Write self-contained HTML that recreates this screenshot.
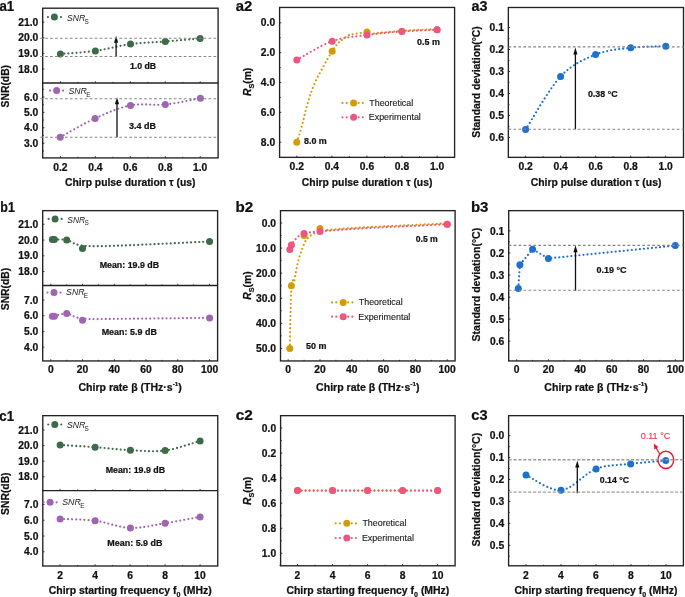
<!DOCTYPE html>
<html><head><meta charset="utf-8"><style>
html,body{margin:0;padding:0;background:#fff;}
svg{display:block;filter:blur(0.3px);}
text{font-family:"Liberation Sans", sans-serif;}
text[font-weight=bold],g text{stroke:#111;stroke-width:0.22px;}
</style></head><body>
<svg width="685" height="597" viewBox="0 0 685 597">
<rect width="685" height="597" fill="#fff"/>
<rect x="42.7" y="8.2" width="175.4" height="149.7" fill="none" stroke="#222" stroke-width="1.35"/>
<line x1="42.7" y1="83" x2="218.1" y2="83" stroke="#222" stroke-width="1.35" />
<line x1="60.4" y1="83" x2="60.4" y2="81.3" stroke="#222" stroke-width="0.9" />
<line x1="95.35" y1="83" x2="95.35" y2="81.3" stroke="#222" stroke-width="0.9" />
<line x1="130.3" y1="83" x2="130.3" y2="81.3" stroke="#222" stroke-width="0.9" />
<line x1="165.25" y1="83" x2="165.25" y2="81.3" stroke="#222" stroke-width="0.9" />
<line x1="200.2" y1="83" x2="200.2" y2="81.3" stroke="#222" stroke-width="0.9" />
<line x1="77.88" y1="83" x2="77.88" y2="81.9" stroke="#222" stroke-width="0.9" />
<line x1="112.82" y1="83" x2="112.82" y2="81.9" stroke="#222" stroke-width="0.9" />
<line x1="147.77" y1="83" x2="147.77" y2="81.9" stroke="#222" stroke-width="0.9" />
<line x1="182.72" y1="83" x2="182.72" y2="81.9" stroke="#222" stroke-width="0.9" />
<line x1="60.4" y1="157.9" x2="60.4" y2="156.2" stroke="#222" stroke-width="0.9" />
<line x1="95.35" y1="157.9" x2="95.35" y2="156.2" stroke="#222" stroke-width="0.9" />
<line x1="130.3" y1="157.9" x2="130.3" y2="156.2" stroke="#222" stroke-width="0.9" />
<line x1="165.25" y1="157.9" x2="165.25" y2="156.2" stroke="#222" stroke-width="0.9" />
<line x1="200.2" y1="157.9" x2="200.2" y2="156.2" stroke="#222" stroke-width="0.9" />
<line x1="77.88" y1="157.9" x2="77.88" y2="156.8" stroke="#222" stroke-width="0.9" />
<line x1="112.82" y1="157.9" x2="112.82" y2="156.8" stroke="#222" stroke-width="0.9" />
<line x1="147.77" y1="157.9" x2="147.77" y2="156.8" stroke="#222" stroke-width="0.9" />
<line x1="182.72" y1="157.9" x2="182.72" y2="156.8" stroke="#222" stroke-width="0.9" />
<line x1="42.7" y1="69" x2="44.4" y2="69" stroke="#222" stroke-width="0.9" />
<line x1="42.7" y1="53.4" x2="44.4" y2="53.4" stroke="#222" stroke-width="0.9" />
<line x1="42.7" y1="37.8" x2="44.4" y2="37.8" stroke="#222" stroke-width="0.9" />
<line x1="42.7" y1="22.2" x2="44.4" y2="22.2" stroke="#222" stroke-width="0.9" />
<line x1="42.7" y1="143.2" x2="44.4" y2="143.2" stroke="#222" stroke-width="0.9" />
<line x1="42.7" y1="127.8" x2="44.4" y2="127.8" stroke="#222" stroke-width="0.9" />
<line x1="42.7" y1="112.4" x2="44.4" y2="112.4" stroke="#222" stroke-width="0.9" />
<line x1="42.7" y1="97" x2="44.4" y2="97" stroke="#222" stroke-width="0.9" />
<line x1="42.7" y1="150.9" x2="43.8" y2="150.9" stroke="#222" stroke-width="0.9" />
<line x1="42.7" y1="135.5" x2="43.8" y2="135.5" stroke="#222" stroke-width="0.9" />
<line x1="42.7" y1="120.1" x2="43.8" y2="120.1" stroke="#222" stroke-width="0.9" />
<line x1="42.7" y1="104.7" x2="43.8" y2="104.7" stroke="#222" stroke-width="0.9" />
<line x1="42.7" y1="89.3" x2="43.8" y2="89.3" stroke="#222" stroke-width="0.9" />
<text x="38.3" y="72.6" font-size="10" font-weight="bold" text-anchor="end" fill="#111" textLength="20.05" lengthAdjust="spacingAndGlyphs" >18.0</text>
<text x="38.3" y="57" font-size="10" font-weight="bold" text-anchor="end" fill="#111" textLength="20.05" lengthAdjust="spacingAndGlyphs" >19.0</text>
<text x="38.3" y="41.4" font-size="10" font-weight="bold" text-anchor="end" fill="#111" textLength="20.05" lengthAdjust="spacingAndGlyphs" >20.0</text>
<text x="38.3" y="25.8" font-size="10" font-weight="bold" text-anchor="end" fill="#111" textLength="20.05" lengthAdjust="spacingAndGlyphs" >21.0</text>
<text x="38.3" y="146.8" font-size="10" font-weight="bold" text-anchor="end" fill="#111" textLength="14.32" lengthAdjust="spacingAndGlyphs" >3.0</text>
<text x="38.3" y="131.4" font-size="10" font-weight="bold" text-anchor="end" fill="#111" textLength="14.32" lengthAdjust="spacingAndGlyphs" >4.0</text>
<text x="38.3" y="116" font-size="10" font-weight="bold" text-anchor="end" fill="#111" textLength="14.32" lengthAdjust="spacingAndGlyphs" >5.0</text>
<text x="38.3" y="100.6" font-size="10" font-weight="bold" text-anchor="end" fill="#111" textLength="14.32" lengthAdjust="spacingAndGlyphs" >6.0</text>
<text x="60.4" y="170.7" font-size="10" font-weight="bold" text-anchor="middle" fill="#111" textLength="14.32" lengthAdjust="spacingAndGlyphs" >0.2</text>
<text x="95.35" y="170.7" font-size="10" font-weight="bold" text-anchor="middle" fill="#111" textLength="14.32" lengthAdjust="spacingAndGlyphs" >0.4</text>
<text x="130.3" y="170.7" font-size="10" font-weight="bold" text-anchor="middle" fill="#111" textLength="14.32" lengthAdjust="spacingAndGlyphs" >0.6</text>
<text x="165.25" y="170.7" font-size="10" font-weight="bold" text-anchor="middle" fill="#111" textLength="14.32" lengthAdjust="spacingAndGlyphs" >0.8</text>
<text x="200.2" y="170.7" font-size="10" font-weight="bold" text-anchor="middle" fill="#111" textLength="14.32" lengthAdjust="spacingAndGlyphs" >1.0</text>
<path d="M60.4,54 C66.23,53.48 83.72,52.55 95.4,50.9 C107.08,49.25 118.85,45.67 130.5,44.1 C142.15,42.53 153.7,42.45 165.3,41.5 C176.9,40.55 194.3,38.92 200.1,38.4" fill="none" stroke="#3d6a48" stroke-width="2.2" stroke-linecap="round" stroke-dasharray="0 4.05"/>
<circle cx="60.4" cy="54" r="3.5" fill="#3d6a48"/>
<circle cx="95.4" cy="50.9" r="3.5" fill="#3d6a48"/>
<circle cx="130.5" cy="44.1" r="3.5" fill="#3d6a48"/>
<circle cx="165.3" cy="41.5" r="3.5" fill="#3d6a48"/>
<circle cx="200.1" cy="38.4" r="3.5" fill="#3d6a48"/>
<path d="M60.2,137.2 C66.02,134.07 83.38,123.7 95.1,118.4 C106.82,113.1 118.8,107.72 130.5,105.4 C142.2,103.08 153.65,105.7 165.3,104.5 C176.95,103.3 194.55,99.25 200.4,98.2" fill="none" stroke="#a064b0" stroke-width="2.2" stroke-linecap="round" stroke-dasharray="0 4.05"/>
<circle cx="60.2" cy="137.2" r="3.5" fill="#a064b0"/>
<circle cx="95.1" cy="118.4" r="3.5" fill="#a064b0"/>
<circle cx="130.5" cy="105.4" r="3.5" fill="#a064b0"/>
<circle cx="165.3" cy="104.5" r="3.5" fill="#a064b0"/>
<circle cx="200.4" cy="98.2" r="3.5" fill="#a064b0"/>
<line x1="116.1" y1="56.5" x2="116.1" y2="42.3" stroke="#111" stroke-width="1.3" />
<path d="M116.1,35.8 L114,42.8 L118.2,42.8 Z" fill="#111"/>
<line x1="117" y1="137.3" x2="117" y2="103.8" stroke="#111" stroke-width="1.3" />
<path d="M117,97.3 L114.9,104.3 L119.1,104.3 Z" fill="#111"/>
<text x="129.9" y="68.8" font-size="8.8" font-weight="bold" text-anchor="start" fill="#111" textLength="26.24" lengthAdjust="spacingAndGlyphs" >1.0 dB</text>
<text x="129.05" y="128.7" font-size="8.8" font-weight="bold" text-anchor="start" fill="#111" textLength="26.91" lengthAdjust="spacingAndGlyphs" >3.4 dB</text>
<circle cx="47.9" cy="17.1" r="1.1" fill="#3d6a48"/>
<circle cx="60.9" cy="17.1" r="1.1" fill="#3d6a48"/>
<circle cx="54.4" cy="17.1" r="3.5" fill="#3d6a48"/>
<text x="67.01" y="21" font-size="9.6" font-style="italic" fill="#222" textLength="18.2" lengthAdjust="spacingAndGlyphs">SNR</text>
<text x="84.55" y="23.5" font-size="6.4" fill="#222">S</text>
<circle cx="50.1" cy="90.6" r="1.1" fill="#a064b0"/>
<circle cx="63.1" cy="90.6" r="1.1" fill="#a064b0"/>
<circle cx="56.6" cy="90.6" r="3.5" fill="#a064b0"/>
<text x="68.4" y="94.1" font-size="9.6" font-style="italic" fill="#222" textLength="18.41" lengthAdjust="spacingAndGlyphs">SNR</text>
<text x="86.15" y="96.6" font-size="6.4" fill="#222">E</text>
<g transform="translate(9,86.2) rotate(-90) scale(1.035,1)"><text x="0" y="0" font-size="10" font-weight="bold" text-anchor="middle" fill="#111">SNR(dB)</text></g>
<g transform="translate(130.2,0) scale(1.036,1)"><text x="0" y="185.6" font-size="10" font-weight="bold" text-anchor="middle" fill="#111">Chirp pulse duration τ (us)</text></g>
<text x="-0.54" y="10.5" font-size="14.2" font-weight="bold" text-anchor="start" fill="#111" textLength="14.76" lengthAdjust="spacingAndGlyphs" >a1</text>
<rect x="279.6" y="7.45" width="175" height="149.9" fill="none" stroke="#222" stroke-width="1.35"/>
<line x1="296.8" y1="157.35" x2="296.8" y2="155.65" stroke="#222" stroke-width="0.9" />
<line x1="331.88" y1="157.35" x2="331.88" y2="155.65" stroke="#222" stroke-width="0.9" />
<line x1="366.96" y1="157.35" x2="366.96" y2="155.65" stroke="#222" stroke-width="0.9" />
<line x1="402.04" y1="157.35" x2="402.04" y2="155.65" stroke="#222" stroke-width="0.9" />
<line x1="437.12" y1="157.35" x2="437.12" y2="155.65" stroke="#222" stroke-width="0.9" />
<line x1="314.34" y1="157.35" x2="314.34" y2="156.25" stroke="#222" stroke-width="0.9" />
<line x1="349.42" y1="157.35" x2="349.42" y2="156.25" stroke="#222" stroke-width="0.9" />
<line x1="384.5" y1="157.35" x2="384.5" y2="156.25" stroke="#222" stroke-width="0.9" />
<line x1="419.58" y1="157.35" x2="419.58" y2="156.25" stroke="#222" stroke-width="0.9" />
<line x1="279.6" y1="22.8" x2="281.3" y2="22.8" stroke="#222" stroke-width="0.9" />
<line x1="279.6" y1="52.65" x2="281.3" y2="52.65" stroke="#222" stroke-width="0.9" />
<line x1="279.6" y1="82.5" x2="281.3" y2="82.5" stroke="#222" stroke-width="0.9" />
<line x1="279.6" y1="112.35" x2="281.3" y2="112.35" stroke="#222" stroke-width="0.9" />
<line x1="279.6" y1="142.2" x2="281.3" y2="142.2" stroke="#222" stroke-width="0.9" />
<line x1="279.6" y1="37.73" x2="280.7" y2="37.73" stroke="#222" stroke-width="0.9" />
<line x1="279.6" y1="67.58" x2="280.7" y2="67.58" stroke="#222" stroke-width="0.9" />
<line x1="279.6" y1="97.42" x2="280.7" y2="97.42" stroke="#222" stroke-width="0.9" />
<line x1="279.6" y1="127.28" x2="280.7" y2="127.28" stroke="#222" stroke-width="0.9" />
<text x="275.2" y="26.4" font-size="10" font-weight="bold" text-anchor="end" fill="#111" textLength="14.32" lengthAdjust="spacingAndGlyphs" >0.0</text>
<text x="275.2" y="56.25" font-size="10" font-weight="bold" text-anchor="end" fill="#111" textLength="14.32" lengthAdjust="spacingAndGlyphs" >2.0</text>
<text x="275.2" y="86.1" font-size="10" font-weight="bold" text-anchor="end" fill="#111" textLength="14.32" lengthAdjust="spacingAndGlyphs" >4.0</text>
<text x="275.2" y="115.95" font-size="10" font-weight="bold" text-anchor="end" fill="#111" textLength="14.32" lengthAdjust="spacingAndGlyphs" >6.0</text>
<text x="275.2" y="145.8" font-size="10" font-weight="bold" text-anchor="end" fill="#111" textLength="14.32" lengthAdjust="spacingAndGlyphs" >8.0</text>
<text x="296.8" y="170.15" font-size="10" font-weight="bold" text-anchor="middle" fill="#111" textLength="14.32" lengthAdjust="spacingAndGlyphs" >0.2</text>
<text x="331.88" y="170.15" font-size="10" font-weight="bold" text-anchor="middle" fill="#111" textLength="14.32" lengthAdjust="spacingAndGlyphs" >0.4</text>
<text x="366.96" y="170.15" font-size="10" font-weight="bold" text-anchor="middle" fill="#111" textLength="14.32" lengthAdjust="spacingAndGlyphs" >0.6</text>
<text x="402.04" y="170.15" font-size="10" font-weight="bold" text-anchor="middle" fill="#111" textLength="14.32" lengthAdjust="spacingAndGlyphs" >0.8</text>
<text x="437.12" y="170.15" font-size="10" font-weight="bold" text-anchor="middle" fill="#111" textLength="14.32" lengthAdjust="spacingAndGlyphs" >1.0</text>
<path d="M296.8,142.2 C297.23,140.88 298.38,137.62 299.4,134.3 C300.42,130.98 301.85,126.28 302.9,122.3 C303.95,118.32 304.7,114.23 305.7,110.4 C306.7,106.57 307.83,102.75 308.9,99.3 C309.97,95.85 310.78,93.15 312.1,89.7 C313.42,86.25 315.22,81.9 316.8,78.6 C318.38,75.3 319.87,73.08 321.6,69.9 C323.33,66.72 325.43,62.6 327.2,59.5 C328.97,56.4 330.77,53.53 332.2,51.3 C333.63,49.07 334.82,47.45 335.8,46.1 C336.78,44.75 337.2,44.12 338.1,43.2 C339,42.28 339.55,41.85 341.2,40.6 C342.85,39.35 346.2,36.73 348,35.7 C349.8,34.67 350.48,34.77 352,34.4 C353.52,34.03 355.4,33.75 357.1,33.5 C358.8,33.25 360.55,33.15 362.2,32.9 C363.85,32.65 366.2,32.15 367,32" fill="none" stroke="#d39b08" stroke-width="2.2" stroke-linecap="round" stroke-dasharray="0 4.05"/>
<circle cx="373.94" cy="33.58" r="1.1" fill="#d39b08"/>
<circle cx="377.96" cy="33.11" r="1.1" fill="#d39b08"/>
<circle cx="381.99" cy="32.67" r="1.1" fill="#d39b08"/>
<circle cx="386.02" cy="32.26" r="1.1" fill="#d39b08"/>
<circle cx="390.05" cy="31.88" r="1.1" fill="#d39b08"/>
<circle cx="394.09" cy="31.53" r="1.1" fill="#d39b08"/>
<circle cx="398.12" cy="31.2" r="1.1" fill="#d39b08"/>
<circle cx="402.16" cy="30.89" r="1.1" fill="#d39b08"/>
<circle cx="406.2" cy="30.61" r="1.1" fill="#d39b08"/>
<circle cx="410.24" cy="30.36" r="1.1" fill="#d39b08"/>
<circle cx="414.29" cy="30.14" r="1.1" fill="#d39b08"/>
<circle cx="418.33" cy="29.95" r="1.1" fill="#d39b08"/>
<circle cx="422.38" cy="29.77" r="1.1" fill="#d39b08"/>
<circle cx="426.42" cy="29.6" r="1.1" fill="#d39b08"/>
<circle cx="430.47" cy="29.43" r="1.1" fill="#d39b08"/>
<circle cx="434.52" cy="29.27" r="1.1" fill="#d39b08"/>
<circle cx="438.56" cy="29.1" r="1.1" fill="#d39b08"/>
<path d="M296.8,59.9 C302.7,56.78 320.5,45.35 332.2,41.2 C343.9,37.05 355.38,36.62 367,35 C378.62,33.38 390.22,32.37 401.9,31.5 C413.58,30.63 431.23,30.08 437.1,29.8" fill="none" stroke="#ef5580" stroke-width="2.2" stroke-linecap="round" stroke-dasharray="0 4.05"/>
<circle cx="296.8" cy="142.2" r="3.5" fill="#d39b08"/>
<circle cx="332.2" cy="51.3" r="3.5" fill="#d39b08"/>
<circle cx="367" cy="32" r="3.5" fill="#d39b08"/>
<circle cx="401.9" cy="31.3" r="3.5" fill="#d39b08"/>
<circle cx="437.1" cy="29.8" r="3.5" fill="#d39b08"/>
<circle cx="296.8" cy="59.9" r="3.5" fill="#ef5580"/>
<circle cx="332.2" cy="41.2" r="3.5" fill="#ef5580"/>
<circle cx="367" cy="35" r="3.5" fill="#ef5580"/>
<circle cx="401.9" cy="31.5" r="3.5" fill="#ef5580"/>
<circle cx="437.1" cy="29.8" r="3.5" fill="#ef5580"/>
<text x="303.97" y="143.6" font-size="8.8" font-weight="bold" text-anchor="start" fill="#111" textLength="22.84" lengthAdjust="spacingAndGlyphs" >8.0 m</text>
<text x="417" y="45.1" font-size="8.8" font-weight="bold" text-anchor="start" fill="#111" textLength="22.81" lengthAdjust="spacingAndGlyphs" >0.5 m</text>
<circle cx="342.45" cy="102.9" r="1.1" fill="#d39b08"/>
<circle cx="346.7" cy="102.9" r="1.1" fill="#d39b08"/>
<circle cx="358.6" cy="102.9" r="1.1" fill="#d39b08"/>
<circle cx="362.8" cy="102.9" r="1.1" fill="#d39b08"/>
<circle cx="353.6" cy="102.9" r="3.5" fill="#d39b08"/>
<circle cx="342.45" cy="117.35" r="1.1" fill="#ef5580"/>
<circle cx="346.7" cy="117.35" r="1.1" fill="#ef5580"/>
<circle cx="358.6" cy="117.35" r="1.1" fill="#ef5580"/>
<circle cx="362.8" cy="117.35" r="1.1" fill="#ef5580"/>
<circle cx="353.6" cy="117.35" r="3.5" fill="#ef5580"/>
<text x="369.25" y="105.9" font-size="8.4" font-weight="normal" text-anchor="start" fill="#1a1a1a" textLength="44" lengthAdjust="spacingAndGlyphs" stroke="#1a1a1a" stroke-width="0.12">Theoretical</text>
<text x="368.72" y="120.3" font-size="8.4" font-weight="normal" text-anchor="start" fill="#1a1a1a" textLength="52.13" lengthAdjust="spacingAndGlyphs" stroke="#1a1a1a" stroke-width="0.12">Experimental</text>
<g transform="translate(250.8,81.9) rotate(-90) scale(1.035,1)"><text x="0" y="0" font-size="10" font-weight="bold" text-anchor="middle" fill="#111"><tspan font-style="italic">R</tspan><tspan font-size="7" dy="3.2">S</tspan><tspan dy="-3.2">(m)</tspan></text></g>
<g transform="translate(367.1,0) scale(1.036,1)"><text x="0" y="185.6" font-size="10" font-weight="bold" text-anchor="middle" fill="#111">Chirp pulse duration τ (us)</text></g>
<text x="235.81" y="10.6" font-size="14.2" font-weight="bold" text-anchor="start" fill="#111" textLength="16.53" lengthAdjust="spacingAndGlyphs" >a2</text>
<rect x="508.35" y="7.5" width="175.15" height="149.85" fill="none" stroke="#222" stroke-width="1.35"/>
<line x1="525.6" y1="157.35" x2="525.6" y2="155.65" stroke="#222" stroke-width="0.9" />
<line x1="560.62" y1="157.35" x2="560.62" y2="155.65" stroke="#222" stroke-width="0.9" />
<line x1="595.64" y1="157.35" x2="595.64" y2="155.65" stroke="#222" stroke-width="0.9" />
<line x1="630.66" y1="157.35" x2="630.66" y2="155.65" stroke="#222" stroke-width="0.9" />
<line x1="665.68" y1="157.35" x2="665.68" y2="155.65" stroke="#222" stroke-width="0.9" />
<line x1="543.11" y1="157.35" x2="543.11" y2="156.25" stroke="#222" stroke-width="0.9" />
<line x1="578.13" y1="157.35" x2="578.13" y2="156.25" stroke="#222" stroke-width="0.9" />
<line x1="613.15" y1="157.35" x2="613.15" y2="156.25" stroke="#222" stroke-width="0.9" />
<line x1="648.17" y1="157.35" x2="648.17" y2="156.25" stroke="#222" stroke-width="0.9" />
<line x1="508.35" y1="27.5" x2="510.05" y2="27.5" stroke="#222" stroke-width="0.9" />
<line x1="508.35" y1="49.48" x2="510.05" y2="49.48" stroke="#222" stroke-width="0.9" />
<line x1="508.35" y1="71.46" x2="510.05" y2="71.46" stroke="#222" stroke-width="0.9" />
<line x1="508.35" y1="93.44" x2="510.05" y2="93.44" stroke="#222" stroke-width="0.9" />
<line x1="508.35" y1="115.42" x2="510.05" y2="115.42" stroke="#222" stroke-width="0.9" />
<line x1="508.35" y1="137.4" x2="510.05" y2="137.4" stroke="#222" stroke-width="0.9" />
<line x1="508.35" y1="38.49" x2="509.45" y2="38.49" stroke="#222" stroke-width="0.9" />
<line x1="508.35" y1="60.47" x2="509.45" y2="60.47" stroke="#222" stroke-width="0.9" />
<line x1="508.35" y1="82.45" x2="509.45" y2="82.45" stroke="#222" stroke-width="0.9" />
<line x1="508.35" y1="104.43" x2="509.45" y2="104.43" stroke="#222" stroke-width="0.9" />
<line x1="508.35" y1="126.41" x2="509.45" y2="126.41" stroke="#222" stroke-width="0.9" />
<text x="503.95" y="31.1" font-size="10" font-weight="bold" text-anchor="end" fill="#111" textLength="14.32" lengthAdjust="spacingAndGlyphs" >0.1</text>
<text x="503.95" y="53.08" font-size="10" font-weight="bold" text-anchor="end" fill="#111" textLength="14.32" lengthAdjust="spacingAndGlyphs" >0.2</text>
<text x="503.95" y="75.06" font-size="10" font-weight="bold" text-anchor="end" fill="#111" textLength="14.32" lengthAdjust="spacingAndGlyphs" >0.3</text>
<text x="503.95" y="97.04" font-size="10" font-weight="bold" text-anchor="end" fill="#111" textLength="14.32" lengthAdjust="spacingAndGlyphs" >0.4</text>
<text x="503.95" y="119.02" font-size="10" font-weight="bold" text-anchor="end" fill="#111" textLength="14.32" lengthAdjust="spacingAndGlyphs" >0.5</text>
<text x="503.95" y="141" font-size="10" font-weight="bold" text-anchor="end" fill="#111" textLength="14.32" lengthAdjust="spacingAndGlyphs" >0.6</text>
<text x="525.6" y="170.15" font-size="10" font-weight="bold" text-anchor="middle" fill="#111" textLength="14.32" lengthAdjust="spacingAndGlyphs" >0.2</text>
<text x="560.62" y="170.15" font-size="10" font-weight="bold" text-anchor="middle" fill="#111" textLength="14.32" lengthAdjust="spacingAndGlyphs" >0.4</text>
<text x="595.64" y="170.15" font-size="10" font-weight="bold" text-anchor="middle" fill="#111" textLength="14.32" lengthAdjust="spacingAndGlyphs" >0.6</text>
<text x="630.66" y="170.15" font-size="10" font-weight="bold" text-anchor="middle" fill="#111" textLength="14.32" lengthAdjust="spacingAndGlyphs" >0.8</text>
<text x="665.68" y="170.15" font-size="10" font-weight="bold" text-anchor="middle" fill="#111" textLength="14.32" lengthAdjust="spacingAndGlyphs" >1.0</text>
<path d="M525.6,129.6 C531.43,120.75 548.93,89 560.6,76.5 C572.27,64 583.92,59.38 595.6,54.6 C607.28,49.82 619,49.2 630.7,47.8 C642.4,46.4 659.95,46.47 665.8,46.2" fill="none" stroke="#1c70d0" stroke-width="2.2" stroke-linecap="round" stroke-dasharray="0 4.05"/>
<circle cx="525.6" cy="129.6" r="3.5" fill="#1c70d0"/>
<circle cx="560.6" cy="76.5" r="3.5" fill="#1c70d0"/>
<circle cx="595.6" cy="54.6" r="3.5" fill="#1c70d0"/>
<circle cx="630.7" cy="47.8" r="3.5" fill="#1c70d0"/>
<circle cx="665.8" cy="46.2" r="3.5" fill="#1c70d0"/>
<line x1="575.4" y1="129.2" x2="575.4" y2="54" stroke="#111" stroke-width="1.3" />
<path d="M575.4,47.5 L573.3,54.5 L577.5,54.5 Z" fill="#111"/>
<text x="587.9" y="97.1" font-size="8.8" font-weight="bold" text-anchor="start" fill="#111" textLength="29.7" lengthAdjust="spacingAndGlyphs" >0.38 °C</text>
<g transform="translate(480.2,82) rotate(-90) scale(1.035,1)"><text x="0" y="0" font-size="10" font-weight="bold" text-anchor="middle" fill="#111">Standard deviation(°C)</text></g>
<g transform="translate(596.05,0) scale(1.036,1)"><text x="0" y="185.6" font-size="10" font-weight="bold" text-anchor="middle" fill="#111">Chirp pulse duration τ (us)</text></g>
<text x="471.52" y="10.5" font-size="14.2" font-weight="bold" text-anchor="start" fill="#111" textLength="16.05" lengthAdjust="spacingAndGlyphs" >a3</text>
<rect x="42.7" y="210.65" width="174.9" height="150.3" fill="none" stroke="#222" stroke-width="1.35"/>
<line x1="42.7" y1="285.5" x2="217.6" y2="285.5" stroke="#222" stroke-width="1.35" />
<line x1="50.8" y1="285.5" x2="50.8" y2="283.8" stroke="#222" stroke-width="0.9" />
<line x1="82.55" y1="285.5" x2="82.55" y2="283.8" stroke="#222" stroke-width="0.9" />
<line x1="114.3" y1="285.5" x2="114.3" y2="283.8" stroke="#222" stroke-width="0.9" />
<line x1="146.05" y1="285.5" x2="146.05" y2="283.8" stroke="#222" stroke-width="0.9" />
<line x1="177.8" y1="285.5" x2="177.8" y2="283.8" stroke="#222" stroke-width="0.9" />
<line x1="209.55" y1="285.5" x2="209.55" y2="283.8" stroke="#222" stroke-width="0.9" />
<line x1="66.67" y1="285.5" x2="66.67" y2="284.4" stroke="#222" stroke-width="0.9" />
<line x1="98.42" y1="285.5" x2="98.42" y2="284.4" stroke="#222" stroke-width="0.9" />
<line x1="130.18" y1="285.5" x2="130.18" y2="284.4" stroke="#222" stroke-width="0.9" />
<line x1="161.93" y1="285.5" x2="161.93" y2="284.4" stroke="#222" stroke-width="0.9" />
<line x1="193.68" y1="285.5" x2="193.68" y2="284.4" stroke="#222" stroke-width="0.9" />
<line x1="50.8" y1="360.95" x2="50.8" y2="359.25" stroke="#222" stroke-width="0.9" />
<line x1="82.55" y1="360.95" x2="82.55" y2="359.25" stroke="#222" stroke-width="0.9" />
<line x1="114.3" y1="360.95" x2="114.3" y2="359.25" stroke="#222" stroke-width="0.9" />
<line x1="146.05" y1="360.95" x2="146.05" y2="359.25" stroke="#222" stroke-width="0.9" />
<line x1="177.8" y1="360.95" x2="177.8" y2="359.25" stroke="#222" stroke-width="0.9" />
<line x1="209.55" y1="360.95" x2="209.55" y2="359.25" stroke="#222" stroke-width="0.9" />
<line x1="66.67" y1="360.95" x2="66.67" y2="359.85" stroke="#222" stroke-width="0.9" />
<line x1="98.42" y1="360.95" x2="98.42" y2="359.85" stroke="#222" stroke-width="0.9" />
<line x1="130.18" y1="360.95" x2="130.18" y2="359.85" stroke="#222" stroke-width="0.9" />
<line x1="161.93" y1="360.95" x2="161.93" y2="359.85" stroke="#222" stroke-width="0.9" />
<line x1="193.68" y1="360.95" x2="193.68" y2="359.85" stroke="#222" stroke-width="0.9" />
<line x1="42.7" y1="271.55" x2="44.4" y2="271.55" stroke="#222" stroke-width="0.9" />
<line x1="42.7" y1="255.8" x2="44.4" y2="255.8" stroke="#222" stroke-width="0.9" />
<line x1="42.7" y1="240.05" x2="44.4" y2="240.05" stroke="#222" stroke-width="0.9" />
<line x1="42.7" y1="224.3" x2="44.4" y2="224.3" stroke="#222" stroke-width="0.9" />
<line x1="42.7" y1="347.11" x2="44.4" y2="347.11" stroke="#222" stroke-width="0.9" />
<line x1="42.7" y1="331.44" x2="44.4" y2="331.44" stroke="#222" stroke-width="0.9" />
<line x1="42.7" y1="315.77" x2="44.4" y2="315.77" stroke="#222" stroke-width="0.9" />
<line x1="42.7" y1="300.1" x2="44.4" y2="300.1" stroke="#222" stroke-width="0.9" />
<text x="38.3" y="275.15" font-size="10" font-weight="bold" text-anchor="end" fill="#111" textLength="20.05" lengthAdjust="spacingAndGlyphs" >18.0</text>
<text x="38.3" y="259.4" font-size="10" font-weight="bold" text-anchor="end" fill="#111" textLength="20.05" lengthAdjust="spacingAndGlyphs" >19.0</text>
<text x="38.3" y="243.65" font-size="10" font-weight="bold" text-anchor="end" fill="#111" textLength="20.05" lengthAdjust="spacingAndGlyphs" >20.0</text>
<text x="38.3" y="227.9" font-size="10" font-weight="bold" text-anchor="end" fill="#111" textLength="20.05" lengthAdjust="spacingAndGlyphs" >21.0</text>
<text x="38.3" y="350.71" font-size="10" font-weight="bold" text-anchor="end" fill="#111" textLength="14.32" lengthAdjust="spacingAndGlyphs" >4.0</text>
<text x="38.3" y="335.04" font-size="10" font-weight="bold" text-anchor="end" fill="#111" textLength="14.32" lengthAdjust="spacingAndGlyphs" >5.0</text>
<text x="38.3" y="319.37" font-size="10" font-weight="bold" text-anchor="end" fill="#111" textLength="14.32" lengthAdjust="spacingAndGlyphs" >6.0</text>
<text x="38.3" y="303.7" font-size="10" font-weight="bold" text-anchor="end" fill="#111" textLength="14.32" lengthAdjust="spacingAndGlyphs" >7.0</text>
<text x="50.8" y="373.15" font-size="10" font-weight="bold" text-anchor="middle" fill="#111" textLength="5.73" lengthAdjust="spacingAndGlyphs" >0</text>
<text x="82.55" y="373.15" font-size="10" font-weight="bold" text-anchor="middle" fill="#111" textLength="11.46" lengthAdjust="spacingAndGlyphs" >20</text>
<text x="114.3" y="373.15" font-size="10" font-weight="bold" text-anchor="middle" fill="#111" textLength="11.46" lengthAdjust="spacingAndGlyphs" >40</text>
<text x="146.05" y="373.15" font-size="10" font-weight="bold" text-anchor="middle" fill="#111" textLength="11.46" lengthAdjust="spacingAndGlyphs" >60</text>
<text x="177.8" y="373.15" font-size="10" font-weight="bold" text-anchor="middle" fill="#111" textLength="11.46" lengthAdjust="spacingAndGlyphs" >80</text>
<text x="209.55" y="373.15" font-size="10" font-weight="bold" text-anchor="middle" fill="#111" textLength="17.19" lengthAdjust="spacingAndGlyphs" >100</text>
<path d="M54.4,239.6 C56.45,239.67 62.05,239 66.7,240 C71.35,241 73.42,244.67 82.3,245.6 C91.18,246.53 98.78,246.28 120,245.6 C141.22,244.92 194.67,242.18 209.6,241.5" fill="none" stroke="#3d6a48" stroke-width="2.2" stroke-linecap="round" stroke-dasharray="0 4.05"/>
<circle cx="52.4" cy="239.6" r="3.5" fill="#3d6a48"/>
<circle cx="54.4" cy="239.6" r="3.5" fill="#3d6a48"/>
<circle cx="66.7" cy="240" r="3.5" fill="#3d6a48"/>
<circle cx="82.5" cy="248.5" r="3.5" fill="#3d6a48"/>
<circle cx="209.6" cy="241.5" r="3.5" fill="#3d6a48"/>
<path d="M54.4,316.3 C56.45,315.85 62.05,313.22 66.7,313.6 C71.35,313.98 73.42,317.73 82.3,318.6 C91.18,319.47 98.78,318.92 120,318.8 C141.22,318.68 194.67,318.05 209.6,317.9" fill="none" stroke="#a064b0" stroke-width="2.2" stroke-linecap="round" stroke-dasharray="0 4.05"/>
<circle cx="52.4" cy="316.3" r="3.5" fill="#a064b0"/>
<circle cx="54.4" cy="316.3" r="3.5" fill="#a064b0"/>
<circle cx="66.7" cy="313.6" r="3.5" fill="#a064b0"/>
<circle cx="82.5" cy="320.3" r="3.5" fill="#a064b0"/>
<circle cx="209.6" cy="317.9" r="3.5" fill="#a064b0"/>
<text x="99.66" y="267.8" font-size="8.8" font-weight="bold" text-anchor="start" fill="#111" textLength="59.49" lengthAdjust="spacingAndGlyphs" >Mean: 19.9 dB</text>
<text x="101.65" y="334.6" font-size="8.8" font-weight="bold" text-anchor="start" fill="#111" textLength="55.21" lengthAdjust="spacingAndGlyphs" >Mean: 5.9 dB</text>
<circle cx="48.6" cy="218.9" r="1.1" fill="#3d6a48"/>
<circle cx="61.6" cy="218.9" r="1.1" fill="#3d6a48"/>
<circle cx="55.1" cy="218.9" r="3.5" fill="#3d6a48"/>
<text x="67.31" y="222.5" font-size="9.6" font-style="italic" fill="#222" textLength="17.89" lengthAdjust="spacingAndGlyphs">SNR</text>
<text x="84.55" y="225" font-size="6.4" fill="#222">S</text>
<circle cx="47.5" cy="292.5" r="1.1" fill="#a064b0"/>
<circle cx="60.5" cy="292.5" r="1.1" fill="#a064b0"/>
<circle cx="54" cy="292.5" r="3.5" fill="#a064b0"/>
<text x="66.1" y="295.4" font-size="9.6" font-style="italic" fill="#222" textLength="18.41" lengthAdjust="spacingAndGlyphs">SNR</text>
<text x="83.85" y="297.9" font-size="6.4" fill="#222">E</text>
<g transform="translate(9,289) rotate(-90) scale(1.035,1)"><text x="0" y="0" font-size="10" font-weight="bold" text-anchor="middle" fill="#111">SNR(dB)</text></g>
<g transform="translate(130.15,0) scale(1.055,1)"><text x="0" y="390.6" font-size="10" font-weight="bold" text-anchor="middle" fill="#111">Chirp rate β (THz·s<tspan font-size="6" dy="-4.6">-1</tspan><tspan dy="4.6">)</tspan></text></g>
<text x="0.37" y="212.3" font-size="14.2" font-weight="bold" text-anchor="start" fill="#111" textLength="14.54" lengthAdjust="spacingAndGlyphs" >b1</text>
<rect x="280.5" y="210.65" width="174.6" height="150.3" fill="none" stroke="#222" stroke-width="1.35"/>
<line x1="288.2" y1="360.95" x2="288.2" y2="359.25" stroke="#222" stroke-width="0.9" />
<line x1="320" y1="360.95" x2="320" y2="359.25" stroke="#222" stroke-width="0.9" />
<line x1="351.8" y1="360.95" x2="351.8" y2="359.25" stroke="#222" stroke-width="0.9" />
<line x1="383.6" y1="360.95" x2="383.6" y2="359.25" stroke="#222" stroke-width="0.9" />
<line x1="415.4" y1="360.95" x2="415.4" y2="359.25" stroke="#222" stroke-width="0.9" />
<line x1="447.2" y1="360.95" x2="447.2" y2="359.25" stroke="#222" stroke-width="0.9" />
<line x1="304.1" y1="360.95" x2="304.1" y2="359.85" stroke="#222" stroke-width="0.9" />
<line x1="335.9" y1="360.95" x2="335.9" y2="359.85" stroke="#222" stroke-width="0.9" />
<line x1="367.7" y1="360.95" x2="367.7" y2="359.85" stroke="#222" stroke-width="0.9" />
<line x1="399.5" y1="360.95" x2="399.5" y2="359.85" stroke="#222" stroke-width="0.9" />
<line x1="431.3" y1="360.95" x2="431.3" y2="359.85" stroke="#222" stroke-width="0.9" />
<line x1="280.5" y1="223" x2="282.2" y2="223" stroke="#222" stroke-width="0.9" />
<line x1="280.5" y1="248.08" x2="282.2" y2="248.08" stroke="#222" stroke-width="0.9" />
<line x1="280.5" y1="273.16" x2="282.2" y2="273.16" stroke="#222" stroke-width="0.9" />
<line x1="280.5" y1="298.24" x2="282.2" y2="298.24" stroke="#222" stroke-width="0.9" />
<line x1="280.5" y1="323.32" x2="282.2" y2="323.32" stroke="#222" stroke-width="0.9" />
<line x1="280.5" y1="348.4" x2="282.2" y2="348.4" stroke="#222" stroke-width="0.9" />
<line x1="280.5" y1="235.54" x2="281.6" y2="235.54" stroke="#222" stroke-width="0.9" />
<line x1="280.5" y1="260.62" x2="281.6" y2="260.62" stroke="#222" stroke-width="0.9" />
<line x1="280.5" y1="285.7" x2="281.6" y2="285.7" stroke="#222" stroke-width="0.9" />
<line x1="280.5" y1="310.78" x2="281.6" y2="310.78" stroke="#222" stroke-width="0.9" />
<line x1="280.5" y1="335.86" x2="281.6" y2="335.86" stroke="#222" stroke-width="0.9" />
<text x="276.1" y="226.6" font-size="10" font-weight="bold" text-anchor="end" fill="#111" textLength="14.32" lengthAdjust="spacingAndGlyphs" >0.0</text>
<text x="276.1" y="251.68" font-size="10" font-weight="bold" text-anchor="end" fill="#111" textLength="20.05" lengthAdjust="spacingAndGlyphs" >10.0</text>
<text x="276.1" y="276.76" font-size="10" font-weight="bold" text-anchor="end" fill="#111" textLength="20.05" lengthAdjust="spacingAndGlyphs" >20.0</text>
<text x="276.1" y="301.84" font-size="10" font-weight="bold" text-anchor="end" fill="#111" textLength="20.05" lengthAdjust="spacingAndGlyphs" >30.0</text>
<text x="276.1" y="326.92" font-size="10" font-weight="bold" text-anchor="end" fill="#111" textLength="20.05" lengthAdjust="spacingAndGlyphs" >40.0</text>
<text x="276.1" y="352" font-size="10" font-weight="bold" text-anchor="end" fill="#111" textLength="20.05" lengthAdjust="spacingAndGlyphs" >50.0</text>
<text x="288.2" y="373.15" font-size="10" font-weight="bold" text-anchor="middle" fill="#111" textLength="5.73" lengthAdjust="spacingAndGlyphs" >0</text>
<text x="320" y="373.15" font-size="10" font-weight="bold" text-anchor="middle" fill="#111" textLength="11.46" lengthAdjust="spacingAndGlyphs" >20</text>
<text x="351.8" y="373.15" font-size="10" font-weight="bold" text-anchor="middle" fill="#111" textLength="11.46" lengthAdjust="spacingAndGlyphs" >40</text>
<text x="383.6" y="373.15" font-size="10" font-weight="bold" text-anchor="middle" fill="#111" textLength="11.46" lengthAdjust="spacingAndGlyphs" >60</text>
<text x="415.4" y="373.15" font-size="10" font-weight="bold" text-anchor="middle" fill="#111" textLength="11.46" lengthAdjust="spacingAndGlyphs" >80</text>
<text x="447.2" y="373.15" font-size="10" font-weight="bold" text-anchor="middle" fill="#111" textLength="17.19" lengthAdjust="spacingAndGlyphs" >100</text>
<path d="M289.8,348.4 C290.07,337.97 290.68,296.9 291.4,285.8 C292.12,274.7 293.4,283.83 294.1,281.8 C294.8,279.77 295.1,276.27 295.6,273.6 C296.1,270.93 296.52,268.43 297.1,265.8 C297.68,263.17 298.32,260.45 299.1,257.8 C299.88,255.15 300.83,252.5 301.8,249.9 C302.77,247.3 304.02,244.02 304.9,242.2 C305.78,240.38 306.22,240.07 307.1,239 C307.98,237.93 309.1,236.68 310.2,235.8 C311.3,234.92 312.07,234.73 313.7,233.7 C315.33,232.67 318.95,230.28 320,229.6" fill="none" stroke="#d39b08" stroke-width="2.2" stroke-linecap="round" stroke-dasharray="0 4.05"/>
<circle cx="327.52" cy="229.89" r="1.1" fill="#d39b08"/>
<circle cx="331.56" cy="229.56" r="1.1" fill="#d39b08"/>
<circle cx="335.59" cy="229.25" r="1.1" fill="#d39b08"/>
<circle cx="339.63" cy="228.95" r="1.1" fill="#d39b08"/>
<circle cx="343.67" cy="228.66" r="1.1" fill="#d39b08"/>
<circle cx="347.71" cy="228.39" r="1.1" fill="#d39b08"/>
<circle cx="351.76" cy="228.13" r="1.1" fill="#d39b08"/>
<circle cx="355.8" cy="227.88" r="1.1" fill="#d39b08"/>
<circle cx="359.84" cy="227.63" r="1.1" fill="#d39b08"/>
<circle cx="363.88" cy="227.4" r="1.1" fill="#d39b08"/>
<circle cx="367.93" cy="227.18" r="1.1" fill="#d39b08"/>
<circle cx="371.97" cy="226.96" r="1.1" fill="#d39b08"/>
<circle cx="376.02" cy="226.75" r="1.1" fill="#d39b08"/>
<circle cx="380.06" cy="226.54" r="1.1" fill="#d39b08"/>
<circle cx="384.11" cy="226.34" r="1.1" fill="#d39b08"/>
<circle cx="388.15" cy="226.15" r="1.1" fill="#d39b08"/>
<circle cx="392.2" cy="225.95" r="1.1" fill="#d39b08"/>
<circle cx="396.24" cy="225.76" r="1.1" fill="#d39b08"/>
<circle cx="400.29" cy="225.58" r="1.1" fill="#d39b08"/>
<circle cx="404.33" cy="225.39" r="1.1" fill="#d39b08"/>
<circle cx="408.38" cy="225.2" r="1.1" fill="#d39b08"/>
<circle cx="412.43" cy="225.02" r="1.1" fill="#d39b08"/>
<circle cx="416.47" cy="224.83" r="1.1" fill="#d39b08"/>
<circle cx="420.52" cy="224.64" r="1.1" fill="#d39b08"/>
<circle cx="424.56" cy="224.45" r="1.1" fill="#d39b08"/>
<circle cx="428.61" cy="224.25" r="1.1" fill="#d39b08"/>
<circle cx="432.65" cy="224.05" r="1.1" fill="#d39b08"/>
<circle cx="436.7" cy="223.85" r="1.1" fill="#d39b08"/>
<circle cx="440.74" cy="223.64" r="1.1" fill="#d39b08"/>
<circle cx="444.79" cy="223.42" r="1.1" fill="#d39b08"/>
<path d="M289.80,249.60 L289.83,249.52 L289.85,249.44 L289.88,249.36 L289.90,249.28 L289.93,249.20 L289.96,249.12 L289.98,249.04 L290.01,248.95 L290.04,248.87 L290.06,248.78 L290.09,248.70 L290.11,248.61 L290.14,248.52 L290.17,248.43 L290.19,248.35 L290.22,248.26 L290.25,248.17 L290.27,248.08 L290.30,247.99 L290.32,247.90 L290.35,247.81 L290.38,247.73 L290.40,247.64 L290.43,247.55 L290.46,247.46 L290.48,247.37 L290.51,247.29 L290.53,247.20 L290.56,247.11 L290.59,247.02 L290.61,246.94 L290.64,246.85 L290.67,246.77 L290.69,246.68 L290.72,246.60 L290.74,246.52 L290.77,246.44 L290.80,246.36 L290.82,246.28 L290.85,246.20 L290.88,246.12 L290.90,246.05 L290.93,245.97 L290.95,245.90 L290.98,245.83 L291.01,245.76 L291.03,245.69 L291.06,245.62 L291.09,245.55 L291.11,245.49 L291.14,245.42 L291.16,245.36 L291.19,245.30 L291.22,245.25 L291.24,245.19 L291.27,245.14 L291.30,245.09 L291.32,245.04 L291.35,244.99 L291.37,244.94 L291.40,244.90 L291.61,244.57 L291.82,244.25 L292.02,243.93 L292.23,243.61 L292.44,243.30 L292.65,243.00 L292.86,242.70 L293.07,242.40 L293.27,242.11 L293.48,241.83 L293.69,241.55 L293.90,241.27 L294.11,241.00 L294.31,240.74 L294.52,240.48 L294.73,240.22 L294.94,239.97 L295.15,239.72 L295.36,239.48 L295.56,239.25 L295.77,239.01 L295.98,238.79 L296.19,238.56 L296.40,238.35 L296.60,238.13 L296.81,237.92 L297.02,237.72 L297.23,237.52 L297.44,237.33 L297.65,237.14 L297.85,236.95 L298.06,236.77 L298.27,236.60 L298.48,236.43 L298.69,236.26 L298.90,236.10 L299.10,235.94 L299.31,235.79 L299.52,235.64 L299.73,235.49 L299.94,235.36 L300.14,235.22 L300.35,235.09 L300.56,234.96 L300.77,234.84 L300.98,234.73 L301.19,234.61 L301.39,234.51 L301.60,234.40 L301.81,234.30 L302.02,234.21 L302.23,234.12 L302.43,234.03 L302.64,233.95 L302.85,233.87 L303.06,233.80 L303.27,233.73 L303.48,233.67 L303.68,233.61 L303.89,233.55 L304.10,233.50 L304.36,233.44 L304.62,233.38 L304.88,233.32 L305.14,233.26 L305.40,233.21 L305.66,233.15 L305.92,233.10 L306.19,233.05 L306.45,233.00 L306.71,232.95 L306.97,232.90 L307.23,232.85 L307.49,232.81 L307.75,232.76 L308.01,232.72 L308.27,232.68 L308.53,232.63 L308.79,232.59 L309.05,232.55 L309.31,232.51 L309.57,232.48 L309.83,232.44 L310.10,232.40 L310.36,232.37 L310.62,232.33 L310.88,232.30 L311.14,232.27 L311.40,232.23 L311.66,232.20 L311.92,232.17 L312.18,232.14 L312.44,232.11 L312.70,232.08 L312.96,232.05 L313.22,232.02 L313.48,232.00 L313.74,231.97 L314.00,231.94 L314.27,231.92 L314.53,231.89 L314.79,231.87 L315.05,231.84 L315.31,231.82 L315.57,231.79 L315.83,231.77 L316.09,231.74 L316.35,231.72 L316.61,231.70 L316.87,231.67 L317.13,231.65 L317.39,231.63 L317.65,231.60 L317.91,231.58 L318.18,231.56 L318.44,231.54 L318.70,231.51 L318.96,231.49 L319.22,231.47 L319.48,231.45 L319.74,231.42 L320.00,231.40 L322.09,231.22 L324.17,231.04 L326.26,230.87 L328.34,230.70 L330.43,230.53 L332.51,230.37 L334.60,230.21 L336.68,230.06 L338.77,229.90 L340.85,229.76 L342.94,229.61 L345.02,229.47 L347.11,229.33 L349.19,229.20 L351.28,229.06 L353.36,228.93 L355.45,228.81 L357.53,228.68 L359.62,228.56 L361.70,228.44 L363.79,228.32 L365.88,228.21 L367.96,228.09 L370.05,227.98 L372.13,227.87 L374.22,227.76 L376.30,227.66 L378.39,227.55 L380.47,227.45 L382.56,227.35 L384.64,227.24 L386.73,227.14 L388.81,227.04 L390.90,226.95 L392.98,226.85 L395.07,226.75 L397.15,226.65 L399.24,226.56 L401.32,226.46 L403.41,226.36 L405.50,226.27 L407.58,226.17 L409.67,226.08 L411.75,225.98 L413.84,225.88 L415.92,225.79 L418.01,225.69 L420.09,225.59 L422.18,225.49 L424.26,225.39 L426.35,225.29 L428.43,225.19 L430.52,225.08 L432.60,224.98 L434.69,224.87 L436.77,224.77 L438.86,224.66 L440.94,224.54 L443.03,224.43 L445.11,224.32 L447.20,224.20" fill="none" stroke="#ef5580" stroke-width="2.2" stroke-linecap="round" stroke-dasharray="0 4.05"/>
<circle cx="289.8" cy="348.4" r="3.5" fill="#d39b08"/>
<circle cx="291.4" cy="285.8" r="3.5" fill="#d39b08"/>
<circle cx="304.1" cy="235.6" r="3.5" fill="#d39b08"/>
<circle cx="320" cy="228.6" r="3.5" fill="#d39b08"/>
<circle cx="447.2" cy="224.2" r="3.5" fill="#d39b08"/>
<circle cx="289.8" cy="249.6" r="3.5" fill="#ef5580"/>
<circle cx="291.4" cy="244.9" r="3.5" fill="#ef5580"/>
<circle cx="304.1" cy="233.5" r="3.5" fill="#ef5580"/>
<circle cx="320" cy="231.4" r="3.5" fill="#ef5580"/>
<circle cx="447.2" cy="224.2" r="3.5" fill="#ef5580"/>
<text x="305.97" y="349.4" font-size="8.8" font-weight="bold" text-anchor="start" fill="#111" textLength="20.43" lengthAdjust="spacingAndGlyphs" >50 m</text>
<text x="415.71" y="241.9" font-size="8.8" font-weight="bold" text-anchor="start" fill="#111" textLength="22.08" lengthAdjust="spacingAndGlyphs" >0.5 m</text>
<circle cx="332.05" cy="302.4" r="1.1" fill="#d39b08"/>
<circle cx="336.3" cy="302.4" r="1.1" fill="#d39b08"/>
<circle cx="348.2" cy="302.4" r="1.1" fill="#d39b08"/>
<circle cx="352.4" cy="302.4" r="1.1" fill="#d39b08"/>
<circle cx="343.2" cy="302.4" r="3.5" fill="#d39b08"/>
<circle cx="332.05" cy="316.7" r="1.1" fill="#ef5580"/>
<circle cx="336.3" cy="316.7" r="1.1" fill="#ef5580"/>
<circle cx="348.2" cy="316.7" r="1.1" fill="#ef5580"/>
<circle cx="352.4" cy="316.7" r="1.1" fill="#ef5580"/>
<circle cx="343.2" cy="316.7" r="3.5" fill="#ef5580"/>
<text x="358.75" y="305.3" font-size="8.4" font-weight="normal" text-anchor="start" fill="#1a1a1a" textLength="44" lengthAdjust="spacingAndGlyphs" stroke="#1a1a1a" stroke-width="0.12">Theoretical</text>
<text x="358.22" y="319.7" font-size="8.4" font-weight="normal" text-anchor="start" fill="#1a1a1a" textLength="52.13" lengthAdjust="spacingAndGlyphs" stroke="#1a1a1a" stroke-width="0.12">Experimental</text>
<g transform="translate(251.2,285.6) rotate(-90) scale(1.035,1)"><text x="0" y="0" font-size="10" font-weight="bold" text-anchor="middle" fill="#111"><tspan font-style="italic">R</tspan><tspan font-size="7" dy="3.2">S</tspan><tspan dy="-3.2">(m)</tspan></text></g>
<g transform="translate(367.8,0) scale(1.055,1)"><text x="0" y="390.6" font-size="10" font-weight="bold" text-anchor="middle" fill="#111">Chirp rate β (THz·s<tspan font-size="6" dy="-4.6">-1</tspan><tspan dy="4.6">)</tspan></text></g>
<text x="235.55" y="212.3" font-size="14.2" font-weight="bold" text-anchor="start" fill="#111" textLength="17.72" lengthAdjust="spacingAndGlyphs" >b2</text>
<rect x="508.7" y="210.65" width="174.7" height="150.3" fill="none" stroke="#222" stroke-width="1.35"/>
<line x1="516.7" y1="360.95" x2="516.7" y2="359.25" stroke="#222" stroke-width="0.9" />
<line x1="548.42" y1="360.95" x2="548.42" y2="359.25" stroke="#222" stroke-width="0.9" />
<line x1="580.14" y1="360.95" x2="580.14" y2="359.25" stroke="#222" stroke-width="0.9" />
<line x1="611.86" y1="360.95" x2="611.86" y2="359.25" stroke="#222" stroke-width="0.9" />
<line x1="643.58" y1="360.95" x2="643.58" y2="359.25" stroke="#222" stroke-width="0.9" />
<line x1="675.3" y1="360.95" x2="675.3" y2="359.25" stroke="#222" stroke-width="0.9" />
<line x1="532.56" y1="360.95" x2="532.56" y2="359.85" stroke="#222" stroke-width="0.9" />
<line x1="564.28" y1="360.95" x2="564.28" y2="359.85" stroke="#222" stroke-width="0.9" />
<line x1="596" y1="360.95" x2="596" y2="359.85" stroke="#222" stroke-width="0.9" />
<line x1="627.72" y1="360.95" x2="627.72" y2="359.85" stroke="#222" stroke-width="0.9" />
<line x1="659.44" y1="360.95" x2="659.44" y2="359.85" stroke="#222" stroke-width="0.9" />
<line x1="508.7" y1="230.9" x2="510.4" y2="230.9" stroke="#222" stroke-width="0.9" />
<line x1="508.7" y1="252.96" x2="510.4" y2="252.96" stroke="#222" stroke-width="0.9" />
<line x1="508.7" y1="275.02" x2="510.4" y2="275.02" stroke="#222" stroke-width="0.9" />
<line x1="508.7" y1="297.08" x2="510.4" y2="297.08" stroke="#222" stroke-width="0.9" />
<line x1="508.7" y1="319.14" x2="510.4" y2="319.14" stroke="#222" stroke-width="0.9" />
<line x1="508.7" y1="341.2" x2="510.4" y2="341.2" stroke="#222" stroke-width="0.9" />
<line x1="508.7" y1="241.93" x2="509.8" y2="241.93" stroke="#222" stroke-width="0.9" />
<line x1="508.7" y1="263.99" x2="509.8" y2="263.99" stroke="#222" stroke-width="0.9" />
<line x1="508.7" y1="286.05" x2="509.8" y2="286.05" stroke="#222" stroke-width="0.9" />
<line x1="508.7" y1="308.11" x2="509.8" y2="308.11" stroke="#222" stroke-width="0.9" />
<line x1="508.7" y1="330.17" x2="509.8" y2="330.17" stroke="#222" stroke-width="0.9" />
<text x="504.3" y="234.5" font-size="10" font-weight="bold" text-anchor="end" fill="#111" textLength="14.32" lengthAdjust="spacingAndGlyphs" >0.1</text>
<text x="504.3" y="256.56" font-size="10" font-weight="bold" text-anchor="end" fill="#111" textLength="14.32" lengthAdjust="spacingAndGlyphs" >0.2</text>
<text x="504.3" y="278.62" font-size="10" font-weight="bold" text-anchor="end" fill="#111" textLength="14.32" lengthAdjust="spacingAndGlyphs" >0.3</text>
<text x="504.3" y="300.68" font-size="10" font-weight="bold" text-anchor="end" fill="#111" textLength="14.32" lengthAdjust="spacingAndGlyphs" >0.4</text>
<text x="504.3" y="322.74" font-size="10" font-weight="bold" text-anchor="end" fill="#111" textLength="14.32" lengthAdjust="spacingAndGlyphs" >0.5</text>
<text x="504.3" y="344.8" font-size="10" font-weight="bold" text-anchor="end" fill="#111" textLength="14.32" lengthAdjust="spacingAndGlyphs" >0.6</text>
<text x="516.7" y="373.15" font-size="10" font-weight="bold" text-anchor="middle" fill="#111" textLength="5.73" lengthAdjust="spacingAndGlyphs" >0</text>
<text x="548.42" y="373.15" font-size="10" font-weight="bold" text-anchor="middle" fill="#111" textLength="11.46" lengthAdjust="spacingAndGlyphs" >20</text>
<text x="580.14" y="373.15" font-size="10" font-weight="bold" text-anchor="middle" fill="#111" textLength="11.46" lengthAdjust="spacingAndGlyphs" >40</text>
<text x="611.86" y="373.15" font-size="10" font-weight="bold" text-anchor="middle" fill="#111" textLength="11.46" lengthAdjust="spacingAndGlyphs" >60</text>
<text x="643.58" y="373.15" font-size="10" font-weight="bold" text-anchor="middle" fill="#111" textLength="11.46" lengthAdjust="spacingAndGlyphs" >80</text>
<text x="675.3" y="373.15" font-size="10" font-weight="bold" text-anchor="middle" fill="#111" textLength="17.19" lengthAdjust="spacingAndGlyphs" >100</text>
<path d="M518.3,288.4 L519.9,264.7 L532.6,249.3 L548.4,258.4 L675.3,245.6" fill="none" stroke="#1c70d0" stroke-width="2.2" stroke-linecap="round" stroke-dasharray="0 4.05"/>
<circle cx="518.3" cy="288.4" r="3.5" fill="#1c70d0"/>
<circle cx="519.9" cy="264.7" r="3.5" fill="#1c70d0"/>
<circle cx="532.6" cy="249.3" r="3.5" fill="#1c70d0"/>
<circle cx="548.4" cy="258.4" r="3.5" fill="#1c70d0"/>
<circle cx="675.3" cy="245.6" r="3.5" fill="#1c70d0"/>
<line x1="575.5" y1="290.8" x2="575.5" y2="251.8" stroke="#111" stroke-width="1.3" />
<path d="M575.5,245.3 L573.4,252.3 L577.6,252.3 Z" fill="#111"/>
<text x="596.49" y="272.8" font-size="8.8" font-weight="bold" text-anchor="start" fill="#111" textLength="30.01" lengthAdjust="spacingAndGlyphs" >0.19 °C</text>
<g transform="translate(480.2,284.6) rotate(-90) scale(1.054,1)"><text x="0" y="0" font-size="10" font-weight="bold" text-anchor="middle" fill="#111">Standard deviation(°C)</text></g>
<g transform="translate(596.05,0) scale(1.055,1)"><text x="0" y="390.6" font-size="10" font-weight="bold" text-anchor="middle" fill="#111">Chirp rate β (THz·s<tspan font-size="6" dy="-4.6">-1</tspan><tspan dy="4.6">)</tspan></text></g>
<text x="470.95" y="212.3" font-size="14.2" font-weight="bold" text-anchor="start" fill="#111" textLength="17.55" lengthAdjust="spacingAndGlyphs" >b3</text>
<rect x="42.8" y="415.65" width="174.95" height="150.35" fill="none" stroke="#222" stroke-width="1.35"/>
<line x1="42.8" y1="490.6" x2="217.75" y2="490.6" stroke="#222" stroke-width="1.35" />
<line x1="60.1" y1="490.6" x2="60.1" y2="488.9" stroke="#222" stroke-width="0.9" />
<line x1="95.1" y1="490.6" x2="95.1" y2="488.9" stroke="#222" stroke-width="0.9" />
<line x1="130.1" y1="490.6" x2="130.1" y2="488.9" stroke="#222" stroke-width="0.9" />
<line x1="165.1" y1="490.6" x2="165.1" y2="488.9" stroke="#222" stroke-width="0.9" />
<line x1="200.1" y1="490.6" x2="200.1" y2="488.9" stroke="#222" stroke-width="0.9" />
<line x1="42.6" y1="490.6" x2="42.6" y2="489.5" stroke="#222" stroke-width="0.9" />
<line x1="77.6" y1="490.6" x2="77.6" y2="489.5" stroke="#222" stroke-width="0.9" />
<line x1="112.6" y1="490.6" x2="112.6" y2="489.5" stroke="#222" stroke-width="0.9" />
<line x1="147.6" y1="490.6" x2="147.6" y2="489.5" stroke="#222" stroke-width="0.9" />
<line x1="182.6" y1="490.6" x2="182.6" y2="489.5" stroke="#222" stroke-width="0.9" />
<line x1="60.1" y1="566" x2="60.1" y2="564.3" stroke="#222" stroke-width="0.9" />
<line x1="95.1" y1="566" x2="95.1" y2="564.3" stroke="#222" stroke-width="0.9" />
<line x1="130.1" y1="566" x2="130.1" y2="564.3" stroke="#222" stroke-width="0.9" />
<line x1="165.1" y1="566" x2="165.1" y2="564.3" stroke="#222" stroke-width="0.9" />
<line x1="200.1" y1="566" x2="200.1" y2="564.3" stroke="#222" stroke-width="0.9" />
<line x1="42.6" y1="566" x2="42.6" y2="564.9" stroke="#222" stroke-width="0.9" />
<line x1="77.6" y1="566" x2="77.6" y2="564.9" stroke="#222" stroke-width="0.9" />
<line x1="112.6" y1="566" x2="112.6" y2="564.9" stroke="#222" stroke-width="0.9" />
<line x1="147.6" y1="566" x2="147.6" y2="564.9" stroke="#222" stroke-width="0.9" />
<line x1="182.6" y1="566" x2="182.6" y2="564.9" stroke="#222" stroke-width="0.9" />
<line x1="42.8" y1="476.8" x2="44.5" y2="476.8" stroke="#222" stroke-width="0.9" />
<line x1="42.8" y1="461.2" x2="44.5" y2="461.2" stroke="#222" stroke-width="0.9" />
<line x1="42.8" y1="445.6" x2="44.5" y2="445.6" stroke="#222" stroke-width="0.9" />
<line x1="42.8" y1="430" x2="44.5" y2="430" stroke="#222" stroke-width="0.9" />
<line x1="42.8" y1="551.75" x2="44.5" y2="551.75" stroke="#222" stroke-width="0.9" />
<line x1="42.8" y1="536" x2="44.5" y2="536" stroke="#222" stroke-width="0.9" />
<line x1="42.8" y1="520.25" x2="44.5" y2="520.25" stroke="#222" stroke-width="0.9" />
<line x1="42.8" y1="504.5" x2="44.5" y2="504.5" stroke="#222" stroke-width="0.9" />
<text x="38.4" y="480.4" font-size="10" font-weight="bold" text-anchor="end" fill="#111" textLength="20.05" lengthAdjust="spacingAndGlyphs" >18.0</text>
<text x="38.4" y="464.8" font-size="10" font-weight="bold" text-anchor="end" fill="#111" textLength="20.05" lengthAdjust="spacingAndGlyphs" >19.0</text>
<text x="38.4" y="449.2" font-size="10" font-weight="bold" text-anchor="end" fill="#111" textLength="20.05" lengthAdjust="spacingAndGlyphs" >20.0</text>
<text x="38.4" y="433.6" font-size="10" font-weight="bold" text-anchor="end" fill="#111" textLength="20.05" lengthAdjust="spacingAndGlyphs" >21.0</text>
<text x="38.4" y="555.35" font-size="10" font-weight="bold" text-anchor="end" fill="#111" textLength="14.32" lengthAdjust="spacingAndGlyphs" >4.0</text>
<text x="38.4" y="539.6" font-size="10" font-weight="bold" text-anchor="end" fill="#111" textLength="14.32" lengthAdjust="spacingAndGlyphs" >5.0</text>
<text x="38.4" y="523.85" font-size="10" font-weight="bold" text-anchor="end" fill="#111" textLength="14.32" lengthAdjust="spacingAndGlyphs" >6.0</text>
<text x="38.4" y="508.1" font-size="10" font-weight="bold" text-anchor="end" fill="#111" textLength="14.32" lengthAdjust="spacingAndGlyphs" >7.0</text>
<text x="60.1" y="579.3" font-size="10" font-weight="bold" text-anchor="middle" fill="#111" textLength="5.73" lengthAdjust="spacingAndGlyphs" >2</text>
<text x="95.1" y="579.3" font-size="10" font-weight="bold" text-anchor="middle" fill="#111" textLength="5.73" lengthAdjust="spacingAndGlyphs" >4</text>
<text x="130.1" y="579.3" font-size="10" font-weight="bold" text-anchor="middle" fill="#111" textLength="5.73" lengthAdjust="spacingAndGlyphs" >6</text>
<text x="165.1" y="579.3" font-size="10" font-weight="bold" text-anchor="middle" fill="#111" textLength="5.73" lengthAdjust="spacingAndGlyphs" >8</text>
<text x="200.1" y="579.3" font-size="10" font-weight="bold" text-anchor="middle" fill="#111" textLength="11.46" lengthAdjust="spacingAndGlyphs" >10</text>
<path d="M60.1,444.9 C65.93,445.28 83.38,446.32 95.1,447.2 C106.82,448.08 118.73,449.65 130.4,450.2 C142.07,450.75 153.48,452.05 165.1,450.5 C176.72,448.95 194.27,442.5 200.1,440.9" fill="none" stroke="#3d6a48" stroke-width="2.2" stroke-linecap="round" stroke-dasharray="0 4.05"/>
<circle cx="60.1" cy="444.9" r="3.5" fill="#3d6a48"/>
<circle cx="95.1" cy="447.2" r="3.5" fill="#3d6a48"/>
<circle cx="130.4" cy="450.2" r="3.5" fill="#3d6a48"/>
<circle cx="165.1" cy="450.5" r="3.5" fill="#3d6a48"/>
<circle cx="200.1" cy="440.9" r="3.5" fill="#3d6a48"/>
<path d="M60.1,518.9 C65.93,519.22 83.38,519.3 95.1,520.8 C106.82,522.3 118.73,527.5 130.4,527.9 C142.07,528.3 153.48,525.03 165.1,523.2 C176.72,521.37 194.27,517.95 200.1,516.9" fill="none" stroke="#a064b0" stroke-width="2.2" stroke-linecap="round" stroke-dasharray="0 4.05"/>
<circle cx="60.1" cy="518.9" r="3.5" fill="#a064b0"/>
<circle cx="95.1" cy="520.8" r="3.5" fill="#a064b0"/>
<circle cx="130.4" cy="527.9" r="3.5" fill="#a064b0"/>
<circle cx="165.1" cy="523.2" r="3.5" fill="#a064b0"/>
<circle cx="200.1" cy="516.9" r="3.5" fill="#a064b0"/>
<text x="105.66" y="473.2" font-size="8.8" font-weight="bold" text-anchor="start" fill="#111" textLength="59.49" lengthAdjust="spacingAndGlyphs" >Mean: 19.9 dB</text>
<text x="107.35" y="546.4" font-size="8.8" font-weight="bold" text-anchor="start" fill="#111" textLength="55.1" lengthAdjust="spacingAndGlyphs" >Mean: 5.9 dB</text>
<circle cx="48.3" cy="424.5" r="1.1" fill="#3d6a48"/>
<circle cx="61.3" cy="424.5" r="1.1" fill="#3d6a48"/>
<circle cx="54.8" cy="424.5" r="3.5" fill="#3d6a48"/>
<text x="66.91" y="428" font-size="9.6" font-style="italic" fill="#222" textLength="18.3" lengthAdjust="spacingAndGlyphs">SNR</text>
<text x="84.55" y="430.5" font-size="6.4" fill="#222">S</text>
<circle cx="43.6" cy="502.3" r="1.1" fill="#a064b0"/>
<circle cx="56.6" cy="502.3" r="1.1" fill="#a064b0"/>
<circle cx="50.1" cy="502.3" r="3.5" fill="#a064b0"/>
<text x="62.2" y="505.2" font-size="9.6" font-style="italic" fill="#222" textLength="18.72" lengthAdjust="spacingAndGlyphs">SNR</text>
<text x="80.25" y="507.7" font-size="6.4" fill="#222">E</text>
<g transform="translate(9,493.7) rotate(-90) scale(1.035,1)"><text x="0" y="0" font-size="10" font-weight="bold" text-anchor="middle" fill="#111">SNR(dB)</text></g>
<g transform="translate(130.2,0) scale(1.045,1)"><text x="0" y="594.1" font-size="10" font-weight="bold" text-anchor="middle" fill="#111">Chirp starting frequency f<tspan font-size="6.8" dy="2.7">0</tspan><tspan dy="-2.7"> (MHz)</tspan></text></g>
<text x="-0.66" y="420.5" font-size="14.2" font-weight="bold" text-anchor="start" fill="#111" textLength="14.68" lengthAdjust="spacingAndGlyphs" >c1</text>
<rect x="280.6" y="415.65" width="174.5" height="150.15" fill="none" stroke="#222" stroke-width="1.35"/>
<line x1="297.5" y1="565.8" x2="297.5" y2="564.1" stroke="#222" stroke-width="0.9" />
<line x1="332.54" y1="565.8" x2="332.54" y2="564.1" stroke="#222" stroke-width="0.9" />
<line x1="367.58" y1="565.8" x2="367.58" y2="564.1" stroke="#222" stroke-width="0.9" />
<line x1="402.62" y1="565.8" x2="402.62" y2="564.1" stroke="#222" stroke-width="0.9" />
<line x1="437.66" y1="565.8" x2="437.66" y2="564.1" stroke="#222" stroke-width="0.9" />
<line x1="279.98" y1="565.8" x2="279.98" y2="564.7" stroke="#222" stroke-width="0.9" />
<line x1="315.02" y1="565.8" x2="315.02" y2="564.7" stroke="#222" stroke-width="0.9" />
<line x1="350.06" y1="565.8" x2="350.06" y2="564.7" stroke="#222" stroke-width="0.9" />
<line x1="385.1" y1="565.8" x2="385.1" y2="564.7" stroke="#222" stroke-width="0.9" />
<line x1="420.14" y1="565.8" x2="420.14" y2="564.7" stroke="#222" stroke-width="0.9" />
<line x1="280.6" y1="428" x2="282.3" y2="428" stroke="#222" stroke-width="0.9" />
<line x1="280.6" y1="453.06" x2="282.3" y2="453.06" stroke="#222" stroke-width="0.9" />
<line x1="280.6" y1="478.12" x2="282.3" y2="478.12" stroke="#222" stroke-width="0.9" />
<line x1="280.6" y1="503.18" x2="282.3" y2="503.18" stroke="#222" stroke-width="0.9" />
<line x1="280.6" y1="528.24" x2="282.3" y2="528.24" stroke="#222" stroke-width="0.9" />
<line x1="280.6" y1="553.3" x2="282.3" y2="553.3" stroke="#222" stroke-width="0.9" />
<line x1="280.6" y1="440.53" x2="281.7" y2="440.53" stroke="#222" stroke-width="0.9" />
<line x1="280.6" y1="465.59" x2="281.7" y2="465.59" stroke="#222" stroke-width="0.9" />
<line x1="280.6" y1="490.65" x2="281.7" y2="490.65" stroke="#222" stroke-width="0.9" />
<line x1="280.6" y1="515.71" x2="281.7" y2="515.71" stroke="#222" stroke-width="0.9" />
<line x1="280.6" y1="540.77" x2="281.7" y2="540.77" stroke="#222" stroke-width="0.9" />
<text x="276.2" y="431.6" font-size="10" font-weight="bold" text-anchor="end" fill="#111" textLength="14.32" lengthAdjust="spacingAndGlyphs" >0.0</text>
<text x="276.2" y="456.66" font-size="10" font-weight="bold" text-anchor="end" fill="#111" textLength="14.32" lengthAdjust="spacingAndGlyphs" >0.2</text>
<text x="276.2" y="481.72" font-size="10" font-weight="bold" text-anchor="end" fill="#111" textLength="14.32" lengthAdjust="spacingAndGlyphs" >0.4</text>
<text x="276.2" y="506.78" font-size="10" font-weight="bold" text-anchor="end" fill="#111" textLength="14.32" lengthAdjust="spacingAndGlyphs" >0.6</text>
<text x="276.2" y="531.84" font-size="10" font-weight="bold" text-anchor="end" fill="#111" textLength="14.32" lengthAdjust="spacingAndGlyphs" >0.8</text>
<text x="276.2" y="556.9" font-size="10" font-weight="bold" text-anchor="end" fill="#111" textLength="14.32" lengthAdjust="spacingAndGlyphs" >1.0</text>
<text x="297.5" y="579.1" font-size="10" font-weight="bold" text-anchor="middle" fill="#111" textLength="5.73" lengthAdjust="spacingAndGlyphs" >2</text>
<text x="332.54" y="579.1" font-size="10" font-weight="bold" text-anchor="middle" fill="#111" textLength="5.73" lengthAdjust="spacingAndGlyphs" >4</text>
<text x="367.58" y="579.1" font-size="10" font-weight="bold" text-anchor="middle" fill="#111" textLength="5.73" lengthAdjust="spacingAndGlyphs" >6</text>
<text x="402.62" y="579.1" font-size="10" font-weight="bold" text-anchor="middle" fill="#111" textLength="5.73" lengthAdjust="spacingAndGlyphs" >8</text>
<text x="437.66" y="579.1" font-size="10" font-weight="bold" text-anchor="middle" fill="#111" textLength="11.46" lengthAdjust="spacingAndGlyphs" >10</text>
<path d="M297.5,490.6 L332.54,490.6 L367.58,490.6 L402.62,490.6 L437.66,490.6" fill="none" stroke="#d39b08" stroke-width="2.2" stroke-linecap="round" stroke-dasharray="0 4.05"/>
<path d="M297.5,490.6 L332.54,490.6 L367.58,490.6 L402.62,490.6 L437.66,490.6" fill="none" stroke="#ef5580" stroke-width="2.2" stroke-linecap="round" stroke-dasharray="0 4.05"/>
<circle cx="297.5" cy="490.6" r="3.5" fill="#d39b08"/>
<circle cx="332.54" cy="490.6" r="3.5" fill="#d39b08"/>
<circle cx="367.58" cy="490.6" r="3.5" fill="#d39b08"/>
<circle cx="402.62" cy="490.6" r="3.5" fill="#d39b08"/>
<circle cx="437.66" cy="490.6" r="3.5" fill="#d39b08"/>
<circle cx="297.5" cy="490.6" r="3.5" fill="#ef5580"/>
<circle cx="332.54" cy="490.6" r="3.5" fill="#ef5580"/>
<circle cx="367.58" cy="490.6" r="3.5" fill="#ef5580"/>
<circle cx="402.62" cy="490.6" r="3.5" fill="#ef5580"/>
<circle cx="437.66" cy="490.6" r="3.5" fill="#ef5580"/>
<circle cx="335.65" cy="523.3" r="1.1" fill="#d39b08"/>
<circle cx="339.9" cy="523.3" r="1.1" fill="#d39b08"/>
<circle cx="351.8" cy="523.3" r="1.1" fill="#d39b08"/>
<circle cx="356" cy="523.3" r="1.1" fill="#d39b08"/>
<circle cx="346.8" cy="523.3" r="3.5" fill="#d39b08"/>
<circle cx="335.65" cy="538" r="1.1" fill="#ef5580"/>
<circle cx="339.9" cy="538" r="1.1" fill="#ef5580"/>
<circle cx="351.8" cy="538" r="1.1" fill="#ef5580"/>
<circle cx="356" cy="538" r="1.1" fill="#ef5580"/>
<circle cx="346.8" cy="538" r="3.5" fill="#ef5580"/>
<text x="362.45" y="526.2" font-size="8.4" font-weight="normal" text-anchor="start" fill="#1a1a1a" textLength="44" lengthAdjust="spacingAndGlyphs" stroke="#1a1a1a" stroke-width="0.12">Theoretical</text>
<text x="361.92" y="540.9" font-size="8.4" font-weight="normal" text-anchor="start" fill="#1a1a1a" textLength="52.13" lengthAdjust="spacingAndGlyphs" stroke="#1a1a1a" stroke-width="0.12">Experimental</text>
<g transform="translate(251.2,490.9) rotate(-90) scale(1.035,1)"><text x="0" y="0" font-size="10" font-weight="bold" text-anchor="middle" fill="#111"><tspan font-style="italic">R</tspan><tspan font-size="7" dy="3.2">S</tspan><tspan dy="-3.2">(m)</tspan></text></g>
<g transform="translate(367.85,0) scale(1.045,1)"><text x="0" y="594.1" font-size="10" font-weight="bold" text-anchor="middle" fill="#111">Chirp starting frequency f<tspan font-size="6.8" dy="2.7">0</tspan><tspan dy="-2.7"> (MHz)</tspan></text></g>
<text x="235.65" y="420.4" font-size="14.2" font-weight="bold" text-anchor="start" fill="#111" textLength="17.11" lengthAdjust="spacingAndGlyphs" >c2</text>
<rect x="508.6" y="415.65" width="174.8" height="150.15" fill="none" stroke="#222" stroke-width="1.35"/>
<line x1="526" y1="565.8" x2="526" y2="564.1" stroke="#222" stroke-width="0.9" />
<line x1="561" y1="565.8" x2="561" y2="564.1" stroke="#222" stroke-width="0.9" />
<line x1="596" y1="565.8" x2="596" y2="564.1" stroke="#222" stroke-width="0.9" />
<line x1="631" y1="565.8" x2="631" y2="564.1" stroke="#222" stroke-width="0.9" />
<line x1="666" y1="565.8" x2="666" y2="564.1" stroke="#222" stroke-width="0.9" />
<line x1="508.5" y1="565.8" x2="508.5" y2="564.7" stroke="#222" stroke-width="0.9" />
<line x1="543.5" y1="565.8" x2="543.5" y2="564.7" stroke="#222" stroke-width="0.9" />
<line x1="578.5" y1="565.8" x2="578.5" y2="564.7" stroke="#222" stroke-width="0.9" />
<line x1="613.5" y1="565.8" x2="613.5" y2="564.7" stroke="#222" stroke-width="0.9" />
<line x1="648.5" y1="565.8" x2="648.5" y2="564.7" stroke="#222" stroke-width="0.9" />
<line x1="508.6" y1="435.6" x2="510.3" y2="435.6" stroke="#222" stroke-width="0.9" />
<line x1="508.6" y1="457.54" x2="510.3" y2="457.54" stroke="#222" stroke-width="0.9" />
<line x1="508.6" y1="479.48" x2="510.3" y2="479.48" stroke="#222" stroke-width="0.9" />
<line x1="508.6" y1="501.42" x2="510.3" y2="501.42" stroke="#222" stroke-width="0.9" />
<line x1="508.6" y1="523.36" x2="510.3" y2="523.36" stroke="#222" stroke-width="0.9" />
<line x1="508.6" y1="545.3" x2="510.3" y2="545.3" stroke="#222" stroke-width="0.9" />
<line x1="508.6" y1="446.57" x2="509.7" y2="446.57" stroke="#222" stroke-width="0.9" />
<line x1="508.6" y1="468.51" x2="509.7" y2="468.51" stroke="#222" stroke-width="0.9" />
<line x1="508.6" y1="490.45" x2="509.7" y2="490.45" stroke="#222" stroke-width="0.9" />
<line x1="508.6" y1="512.39" x2="509.7" y2="512.39" stroke="#222" stroke-width="0.9" />
<line x1="508.6" y1="534.33" x2="509.7" y2="534.33" stroke="#222" stroke-width="0.9" />
<line x1="508.6" y1="556.27" x2="509.7" y2="556.27" stroke="#222" stroke-width="0.9" />
<text x="504.2" y="439.2" font-size="10" font-weight="bold" text-anchor="end" fill="#111" textLength="14.32" lengthAdjust="spacingAndGlyphs" >0.0</text>
<text x="504.2" y="461.14" font-size="10" font-weight="bold" text-anchor="end" fill="#111" textLength="14.32" lengthAdjust="spacingAndGlyphs" >0.1</text>
<text x="504.2" y="483.08" font-size="10" font-weight="bold" text-anchor="end" fill="#111" textLength="14.32" lengthAdjust="spacingAndGlyphs" >0.2</text>
<text x="504.2" y="505.02" font-size="10" font-weight="bold" text-anchor="end" fill="#111" textLength="14.32" lengthAdjust="spacingAndGlyphs" >0.3</text>
<text x="504.2" y="526.96" font-size="10" font-weight="bold" text-anchor="end" fill="#111" textLength="14.32" lengthAdjust="spacingAndGlyphs" >0.4</text>
<text x="504.2" y="548.9" font-size="10" font-weight="bold" text-anchor="end" fill="#111" textLength="14.32" lengthAdjust="spacingAndGlyphs" >0.5</text>
<text x="526" y="579.1" font-size="10" font-weight="bold" text-anchor="middle" fill="#111" textLength="5.73" lengthAdjust="spacingAndGlyphs" >2</text>
<text x="561" y="579.1" font-size="10" font-weight="bold" text-anchor="middle" fill="#111" textLength="5.73" lengthAdjust="spacingAndGlyphs" >4</text>
<text x="596" y="579.1" font-size="10" font-weight="bold" text-anchor="middle" fill="#111" textLength="5.73" lengthAdjust="spacingAndGlyphs" >6</text>
<text x="631" y="579.1" font-size="10" font-weight="bold" text-anchor="middle" fill="#111" textLength="5.73" lengthAdjust="spacingAndGlyphs" >8</text>
<text x="666" y="579.1" font-size="10" font-weight="bold" text-anchor="middle" fill="#111" textLength="11.46" lengthAdjust="spacingAndGlyphs" >10</text>
<path d="M526,475 C531.83,477.53 549.32,491.22 561,490.2 C572.68,489.18 584.5,473.28 596.1,468.9 C607.7,464.52 618.98,465.28 630.6,463.9 C642.22,462.52 659.93,461.15 665.8,460.6" fill="none" stroke="#1c70d0" stroke-width="2.2" stroke-linecap="round" stroke-dasharray="0 4.05"/>
<circle cx="526" cy="475" r="3.5" fill="#1c70d0"/>
<circle cx="561" cy="490.2" r="3.5" fill="#1c70d0"/>
<circle cx="596.1" cy="468.9" r="3.5" fill="#1c70d0"/>
<circle cx="630.6" cy="463.9" r="3.5" fill="#1c70d0"/>
<circle cx="665.8" cy="460.6" r="3.5" fill="#1c70d0"/>
<line x1="577.3" y1="493.3" x2="577.3" y2="467" stroke="#111" stroke-width="1.3" />
<path d="M577.3,460.5 L575.2,467.5 L579.4,467.5 Z" fill="#111"/>
<text x="599.8" y="483.4" font-size="8.8" font-weight="bold" text-anchor="start" fill="#111" textLength="29.4" lengthAdjust="spacingAndGlyphs" >0.14 °C</text>
<ellipse cx="665.85" cy="459.85" rx="7.9" ry="8.6" fill="none" stroke="#f5142e" stroke-width="1.45"/>
<line x1="659.6" y1="454.0" x2="656.0" y2="447.6" stroke="#f5142e" stroke-width="1.2"/>
<path d="M653.7,443.5 L658.4,447.0 L654.4,449.6 Z" fill="#f5142e"/>
<text x="640.7" y="438.8" font-size="9.0" font-weight="normal" text-anchor="start" fill="#f2304c" textLength="29.6" lengthAdjust="spacingAndGlyphs" stroke="#f2304c" stroke-width="0.12">0.11 °C</text>
<g transform="translate(480.2,489.6) rotate(-90) scale(1.054,1)"><text x="0" y="0" font-size="10" font-weight="bold" text-anchor="middle" fill="#111">Standard deviation(°C)</text></g>
<g transform="translate(596,0) scale(1.045,1)"><text x="0" y="594.1" font-size="10" font-weight="bold" text-anchor="middle" fill="#111">Chirp starting frequency f<tspan font-size="6.8" dy="2.7">0</tspan><tspan dy="-2.7"> (MHz)</tspan></text></g>
<text x="471.39" y="420.4" font-size="14.2" font-weight="bold" text-anchor="start" fill="#111" textLength="16.19" lengthAdjust="spacingAndGlyphs" >c3</text>
<line x1="40.2" y1="38.3" x2="218.1" y2="38.3" stroke="#858585" stroke-width="1.1" stroke-dasharray="2.7 2.25"/>
<line x1="40.2" y1="56.5" x2="218.1" y2="56.5" stroke="#858585" stroke-width="1.1" stroke-dasharray="2.7 2.25"/>
<line x1="40.2" y1="98.8" x2="218.1" y2="98.8" stroke="#858585" stroke-width="1.1" stroke-dasharray="2.7 2.25"/>
<line x1="40.2" y1="137.2" x2="218.1" y2="137.2" stroke="#858585" stroke-width="1.1" stroke-dasharray="2.7 2.25"/>
<line x1="508.5" y1="46.9" x2="683.6" y2="46.9" stroke="#858585" stroke-width="1.1" stroke-dasharray="2.7 2.25"/>
<line x1="508.5" y1="129.3" x2="683.6" y2="129.3" stroke="#858585" stroke-width="1.1" stroke-dasharray="2.7 2.25"/>
<line x1="508.7" y1="245.4" x2="683.4" y2="245.4" stroke="#858585" stroke-width="1.1" stroke-dasharray="2.7 2.25"/>
<line x1="508.7" y1="290.2" x2="683.4" y2="290.2" stroke="#858585" stroke-width="1.1" stroke-dasharray="2.7 2.25"/>
<line x1="508.6" y1="459.8" x2="683.4" y2="459.8" stroke="#9a9a9a" stroke-width="1.45" stroke-dasharray="3.1 1.8"/>
<line x1="508.6" y1="492.1" x2="683.4" y2="492.1" stroke="#9a9a9a" stroke-width="1.45" stroke-dasharray="3.1 1.8"/>
</svg>
</body></html>
